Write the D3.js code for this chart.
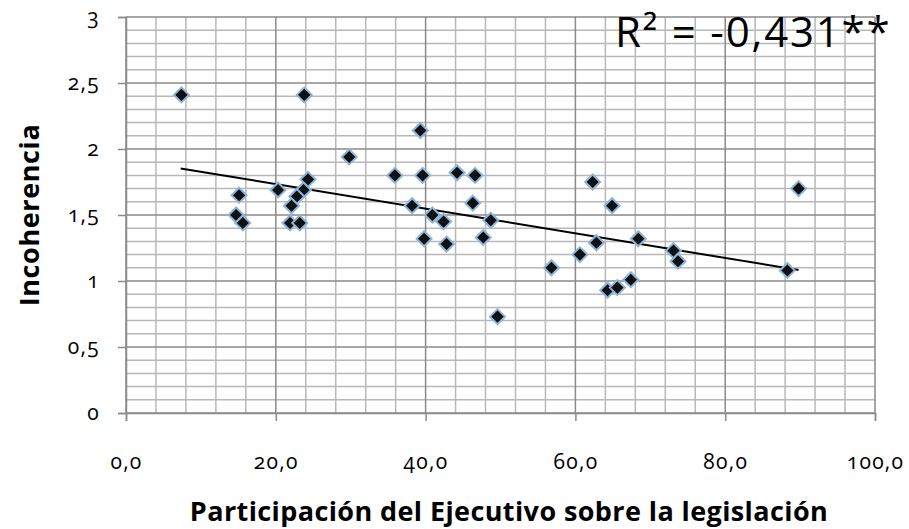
<!DOCTYPE html>
<html>
<head>
<meta charset="utf-8">
<script src="https://cdn.jsdelivr.net/npm/d3@7"></script>
<style>
    body { margin: 0; background: #fff; }
    text { font-family: "Open Sans", sans-serif; fill: #000; }
    .tick text { font-variant-numeric: oldstyle-nums; font-feature-settings: "onum" 1; }
</style>
</head>
<body>
<div id="chart"></div>
<script>
// Valors llegits del gràfic original
const participacion = [7.4, 23.8, 29.8, 39.3, 15.1, 14.7, 15.6, 20.3, 24.3, 23.7,
    22.8, 22.1, 21.9, 23.2, 35.9, 39.6, 44.2, 46.6, 38.2, 40.9,
    42.4, 46.3, 48.7, 39.8, 42.8, 47.7, 49.6, 62.3, 64.9, 56.8,
    60.6, 62.8, 68.4, 64.3, 65.6, 67.4, 73.1, 73.7, 88.3, 89.8];
const incoherencia = [2.41, 2.41, 1.94, 2.14, 1.65, 1.50, 1.44, 1.69, 1.77, 1.69,
    1.64, 1.57, 1.44, 1.44, 1.80, 1.80, 1.82, 1.80, 1.57, 1.50,
    1.45, 1.59, 1.46, 1.32, 1.28, 1.33, 0.73, 1.75, 1.57, 1.10,
    1.20, 1.29, 1.32, 0.93, 0.95, 1.01, 1.23, 1.15, 1.08, 1.70];
const xTicks = [0, 20, 40, 60, 80, 100];
const yTicks = [0, 0.5, 1, 1.5, 2, 2.5, 3];
const trendX = [7.3, 89.8];
const trendY = [1.853, 1.083];
const r2Label = 'R² = -0,431**';
const xTitle = 'Participación del Ejecutivo sobre la legislación';
const yTitle = 'Incoherencia';

const W = 909, H = 529;
const margin = { top: 17, right: 34, bottom: 116, left: 126 };
const width = W - margin.left - margin.right;
const height = H - margin.top - margin.bottom;

const svg = d3.select('#chart').append('svg')
    .attr('width', W)
    .attr('height', H);
const g = svg.append('g').attr('transform', `translate(${margin.left},${margin.top})`);

const x = d3.scaleLinear().domain([0, 100]).range([0, width]);
const y = d3.scaleLinear().domain([0, 3]).range([height, 0]);

const loc = d3.formatLocale({ decimal: ',', thousands: '.', grouping: [3], currency: ['', '€'] });
const fx = loc.format('.1f');
const fy = v => loc.format('~g')(v);

// Graella menor
const minorX = d3.range(0, 101, 4).filter(v => v % 20 !== 0);
const minorY = d3.range(0, 31).map(v => v / 10).filter((v, i) => i % 5 !== 0);
g.append('g').selectAll('line').data(minorX).join('line')
    .attr('x1', d => x(d)).attr('x2', d => x(d))
    .attr('y1', 0).attr('y2', height)
    .attr('stroke', '#b8b8b8').attr('stroke-width', 1.5);
g.append('g').selectAll('line').data(minorY).join('line')
    .attr('x1', 0).attr('x2', width)
    .attr('y1', d => y(d)).attr('y2', d => y(d))
    .attr('stroke', '#b8b8b8').attr('stroke-width', 1.5);

// Graella major
g.append('g').selectAll('line').data(xTicks).join('line')
    .attr('x1', d => x(d)).attr('x2', d => x(d))
    .attr('y1', 0).attr('y2', height)
    .attr('stroke', '#8a8a8a').attr('stroke-width', 1.5);
g.append('g').selectAll('line').data(yTicks).join('line')
    .attr('x1', 0).attr('x2', width)
    .attr('y1', d => y(d)).attr('y2', d => y(d))
    .attr('stroke', '#8a8a8a').attr('stroke-width', 1.5);

// Eixos
const xAxis = g.append('g').attr('transform', `translate(0,${height})`)
    .call(d3.axisBottom(x).tickValues(xTicks).tickSize(8).tickPadding(33).tickFormat(fx));
const yAxis = g.append('g')
    .call(d3.axisLeft(y).tickValues(yTicks).tickSize(8).tickPadding(18).tickFormat(fy));
[xAxis, yAxis].forEach(a => {
    a.select('.domain').attr('stroke', '#8a8a8a').attr('stroke-width', 1.5);
    a.selectAll('.tick line').attr('stroke', '#8a8a8a').attr('stroke-width', 1.5);
    a.selectAll('.tick text')
        .attr('font-family', '"Open Sans", sans-serif')
        .attr('font-size', 21)
        .attr('letter-spacing', 1.3)
        .attr('fill', '#000');
});

// Línia de tendència
g.append('line')
    .attr('x1', x(trendX[0])).attr('y1', y(trendY[0]))
    .attr('x2', x(trendX[1])).attr('y2', y(trendY[1]))
    .attr('stroke', '#000').attr('stroke-width', 2);

// Punts en forma de rombe
const rr = 7.5;
const diamond = `M0,${-rr}L${rr},0L0,${rr}L${-rr},0Z`;
g.append('g').selectAll('path').data(participacion.map((p, i) => [p, incoherencia[i]])).join('path')
    .attr('d', diamond)
    .attr('transform', d => `translate(${x(d[0])},${y(d[1])})`)
    .attr('fill', '#111')
    .attr('stroke', '#8db4da')
    .attr('stroke-width', 2);

// Títols
svg.append('text')
    .attr('x', 509).attr('y', 521)
    .attr('text-anchor', 'middle')
    .attr('font-size', 27).attr('font-weight', 'bold')
    .attr('letter-spacing', 0.4)
    .text(xTitle);
svg.append('text')
    .attr('transform', 'translate(39,215) rotate(-90)')
    .attr('text-anchor', 'middle')
    .attr('font-size', 27).attr('font-weight', 'bold')
    .attr('letter-spacing', 0.6)
    .text(yTitle);

svg.append('text')
    .attr('x', 615).attr('y', 47)
    .attr('font-size', 42)
    .attr('letter-spacing', 1.8)
    .text(r2Label);
</script>
</body>
</html>
